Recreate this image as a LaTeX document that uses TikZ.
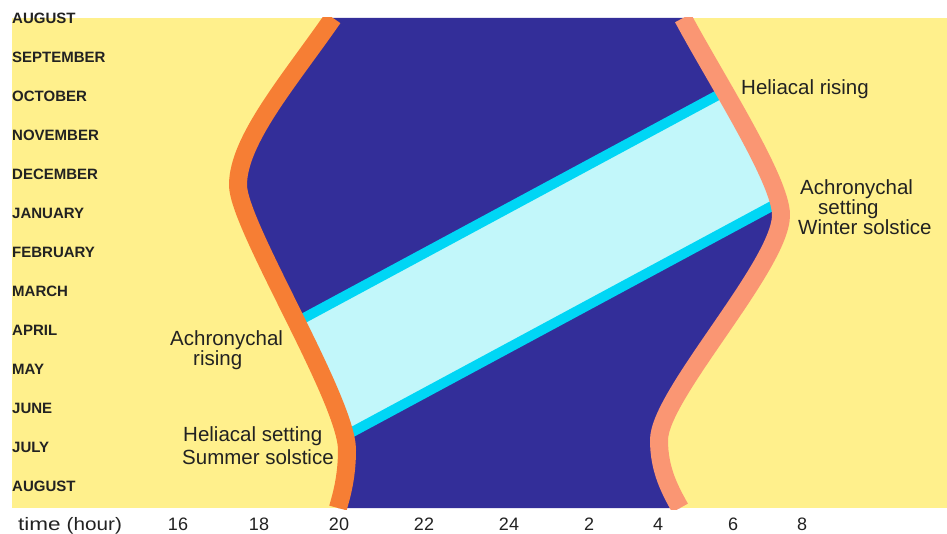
\documentclass[tikz,border=0pt]{standalone}
\usepackage{fontspec}
\setmainfont{Liberation Sans}
\definecolor{bgyellow}{RGB}{255,240,140}
\definecolor{nightblue}{RGB}{51,46,153}
\definecolor{leftorange}{RGB}{246,126,52}
\definecolor{rightsalmon}{RGB}{250,150,115}
\definecolor{bandcyan}{RGB}{0,214,245}
\definecolor{bandlight}{RGB}{194,247,250}
\definecolor{txt}{RGB}{34,34,34}
\tikzset{
  month/.style={anchor=west, inner sep=0pt, text=txt, font=\fontsize{15}{15}\selectfont\bfseries},
  lbl/.style={inner sep=0pt, text=txt, align=left, anchor=west},
  tick/.style={anchor=base, inner sep=0pt, text=txt, font=\fontsize{18}{18}\selectfont},
  curve/.style={line width=18pt, line join=round},
}
\begin{document}
\begin{tikzpicture}[x=1pt,y=-1pt]
\useasboundingbox (0,0) rectangle (947,534);
\fill[white] (0,0) rectangle (947,534);
\fill[bgyellow] (12,18) rectangle (947,508);
\def\leftcurve{(333,18) .. controls (290,80) and (238,140) .. (238,185) .. controls (238,225) and (347,400) .. (347,450) .. controls (347,480) and (340,500) .. (338,508)}
\def\rightcurve{(680,508) .. controls (670,490) and (659,470) .. (659,440) .. controls (659,395) and (781,265) .. (781,215) .. controls (781,180) and (715,78) .. (683,18)}
% night region
\fill[nightblue] \leftcurve -- \rightcurve -- cycle;
% visibility band
\begin{scope}
  \clip \leftcurve -- \rightcurve -- cycle;
  \coordinate (u1) at (200,374);
  \coordinate (u2) at (850,24);
  \coordinate (l1) at (200,514);
  \coordinate (l2) at (850,164);
  \fill[bandlight] (u1) -- (u2) -- (l2) -- (l1) -- cycle;
  \draw[bandcyan, line width=10pt] (u1) -- (u2);
  \draw[bandcyan, line width=10pt] (l1) -- (l2);
\end{scope}
% boundary curves
\begin{scope}
  \clip (12,18) rectangle (947,509);
  \draw[curve, leftorange] \leftcurve;
  \draw[curve, rightsalmon] \rightcurve;
\end{scope}
% months
\node[month] (m1) at (12,18) {AUGUST};
\node[month] (m2) at (12,57) {SEPTEMBER};
\node[month] (m3) at (12,96) {OCTOBER};
\node[month] (m4) at (12,135) {NOVEMBER};
\node[month] (m5) at (12,174) {DECEMBER};
\node[month] (m6) at (12,213) {JANUARY};
\node[month] (m7) at (12,252) {FEBRUARY};
\node[month] (m8) at (12,291) {MARCH};
\node[month] (m9) at (12,330) {APRIL};
\node[month] (m10) at (12,369) {MAY};
\node[month] (m11) at (12,408) {JUNE};
\node[month] (m12) at (12,447) {JULY};
\node[month] (m13) at (12,486) {AUGUST};
% time axis
\node[tick, anchor=base west] (tl) at (18,530) {\scalebox{1.25}[1]{time}\hspace{6pt}\scalebox{1.15}[1]{(hour)}};
\node[tick] (t16) at (178,530) {16};
\node[tick] (t18) at (259,530) {18};
\node[tick] (t20) at (339,530) {20};
\node[tick] (t22) at (424,530) {22};
\node[tick] (t24) at (509,530) {24};
\node[tick] (t2) at (589,530) {2};
\node[tick] (t4) at (658,530) {4};
\node[tick] (t6) at (733,530) {6};
\node[tick] (t8) at (802,530) {8};
% labels
\node[lbl, anchor=base west, font=\fontsize{20.5}{18}\selectfont] (hr) at (741,95) {Heliacal rising};
\node[lbl, font=\fontsize{20.5}{17}\selectfont] (as) at (798,207) {\hspace{2pt}Achronychal\\\hspace{20pt}setting\\Winter solstice};
\node[lbl, font=\fontsize{20.5}{19}\selectfont] (ar) at (170,350) {Achronychal\\\hspace{23pt}rising};
\node[lbl, font=\fontsize{20.5}{23}\selectfont] (hs) at (182,446) {\hspace{1pt}Heliacal setting\\Summer solstice};
\end{tikzpicture}
\end{document}
